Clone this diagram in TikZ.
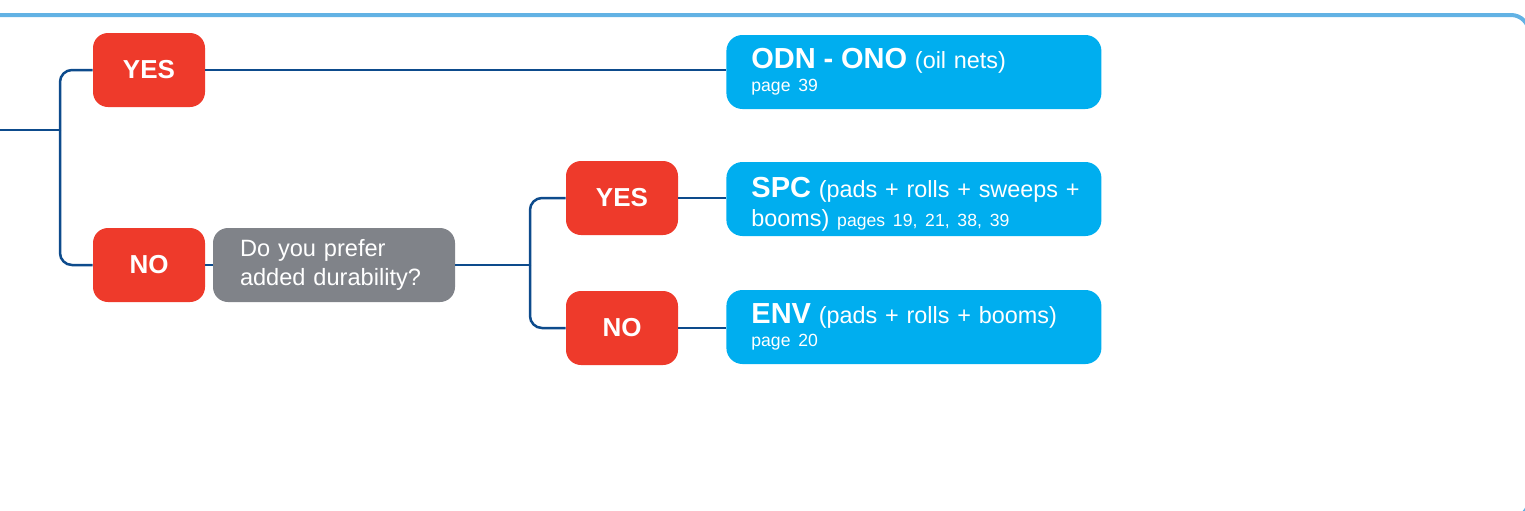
\documentclass[tikz,border=0pt]{standalone}
\usepackage{fontspec}
\setmainfont{Liberation Sans}
\usepackage{xcolor}
\usepackage{tikz}
\definecolor{answerred}{RGB}{238,58,43}
\definecolor{productblue}{RGB}{0,174,239}
\definecolor{questiongray}{RGB}{128,131,137}
\definecolor{linkblue}{RGB}{13,75,140}
\definecolor{framecolor}{RGB}{98,178,228}

\tikzset{
  answer/.style={fill=answerred, text=white, rounded corners=7.5pt, minimum width=56pt, minimum height=37pt, inner sep=0pt, font=\fontsize{13}{15}\selectfont\bfseries},
  question/.style={fill=questiongray, text=white, rounded corners=7.5pt, minimum width=121pt, minimum height=37pt, inner xsep=13.5pt, inner ysep=0pt, text width=94pt, align=left, font=\fontsize{11.8}{14.5}\selectfont},
  product/.style={fill=productblue, text=white, rounded corners=8pt, minimum height=37pt, text width=162.5pt, inner xsep=12.5pt, inner ysep=0pt, align=left, anchor=west, font=\fontsize{11.7}{14.5}\selectfont},
  link/.style={draw=linkblue, line width=1.25pt, rounded corners=6pt},
}
\newcommand{\prodname}[1]{{\fontsize{14.5}{17}\selectfont\bfseries #1}}
\newcommand{\pgref}[1]{{\fontsize{8.8}{11}\selectfont #1}}

\begin{document}
\begin{tikzpicture}[x=0.5pt, y=-0.5pt]
        \useasboundingbox (0,0) rectangle (1525,510);
        % outer frame
        \begin{scope}
            \clip (0,0) rectangle (1525,510);
            \draw[framecolor, line width=2pt, rounded corners=9pt] (-20,15) -- (1529,15) -- (1529,518) -- (1400,518);
        \end{scope}

        % answers and question
        \node[answer] (yes1) at (149,70) {YES};
        \node[answer] (no1) at (149,265) {NO};
        \node[question] (durable) at (334,265) {Do you prefer\\added durability?};
        \node[answer] (yes2) at (622,198) {YES};
        \node[answer] (no2) at (622,328) {NO};

        % products
        \node[product] (odn) at (726,72) {\prodname{ODN - ONO} (oil nets)\\[-3pt]\pgref{page 39}};
        \node[product] (spc) at (726,199) {\rule{0pt}{15.5pt}\mbox{\prodname{SPC} (pads + rolls + sweeps +}\\booms) \pgref{pages 19, 21, 38, 39}};
        \node[product] (env) at (726,327) {\prodname{ENV} (pads + rolls + booms)\\[-3pt]\pgref{page 20}};

        % connectors
        \coordinate (start) at (0,130);
        \coordinate (fork1) at (60,130);
        \coordinate (fork2) at (530,265);
        \draw[link] (start) -- (fork1);
        \draw[link] (fork1) |- (yes1.west);
        \draw[link] (fork1) |- (no1.west);
        \draw[link] (yes1.east) -- (yes1.east -| odn.west);
        \draw[link] (no1.east) -- (durable.west);
        \draw[link] (durable.east) -- (fork2);
        \draw[link] (fork2) |- (yes2.west);
        \draw[link] (fork2) |- (no2.west);
        \draw[link] (yes2.east) -- (yes2.east -| spc.west);
        \draw[link] (no2.east) -- (no2.east -| env.west);
\end{tikzpicture}
\end{document}
